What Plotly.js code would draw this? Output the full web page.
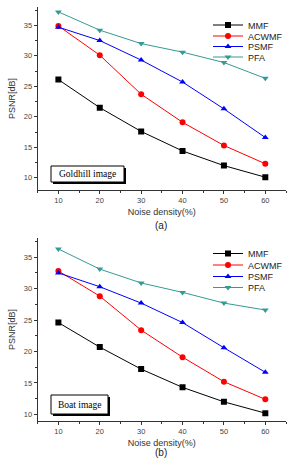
<!DOCTYPE html>
<html>
<head>
<meta charset="utf-8">
<script src="https://cdn.plot.ly/plotly-3.0.1.min.js"></script>
<style>
  html, body { margin: 0; padding: 0; background: #fff; }
  #chart { width: 289px; height: 458px; }
</style>
</head>
<body>
<div id="chart"></div>
<script>
// Noise densities (%) on the x axis
const noiseDensity = [10, 20, 30, 40, 50, 60];

// PSNR [dB] – Goldhill image
const goldMMF   = [26.1, 21.5, 17.6, 14.4, 12.0, 10.1];
const goldACWMF = [34.9, 30.1, 23.7, 19.1, 15.3, 12.3];
const goldPSMF  = [34.7, 32.5, 29.3, 25.7, 21.3, 16.6];
const goldPFA   = [37.2, 34.2, 32.0, 30.6, 28.9, 26.3];

// PSNR [dB] – Boat image
const boatMMF   = [24.6, 20.7, 17.2, 14.3, 12.0, 10.2];
const boatACWMF = [32.8, 28.8, 23.4, 19.1, 15.2, 12.4];
const boatPSMF  = [32.5, 30.3, 27.7, 24.6, 20.6, 16.7];
const boatPFA   = [36.3, 33.1, 30.9, 29.4, 27.7, 26.6];

const seriesNames = ['MMF', 'ACWMF', 'PSMF', 'PFA'];
const xTickVals = [10, 20, 30, 40, 50, 60];
const yTickVals = [10, 15, 20, 25, 30, 35];

const styles = [
  { color: '#000000', symbol: 'square' },
  { color: '#ff0000', symbol: 'circle' },
  { color: '#0000ff', symbol: 'triangle-up' },
  { color: '#339b95', symbol: 'triangle-down' }
];

// each series gets its own single-entry legend so the rows can sit tightly
function makeTraces(sets, xa, ya, legendOffset) {
  return sets.map((vals, i) => {
    const n = legendOffset + i + 1;
    return {
      type: 'scatter',
      mode: 'lines+markers',
      x: noiseDensity,
      y: vals,
      name: seriesNames[i],
      xaxis: xa,
      yaxis: ya,
      legend: n === 1 ? 'legend' : 'legend' + n,
      line: { color: styles[i].color, width: 1 },
      marker: { color: styles[i].color, symbol: styles[i].symbol, size: 6 }
    };
  });
}

const traces = [
  ...makeTraces([goldMMF, goldACWMF, goldPSMF, goldPFA], 'x', 'y', 0),
  ...makeTraces([boatMMF, boatACWMF, boatPSMF, boatPFA], 'x2', 'y2', 4)
];

const tickFont = { family: 'Liberation Sans, Arial, sans-serif', size: 7.5, color: '#444' };
const titleFont = { family: 'Liberation Sans, Arial, sans-serif', size: 9, color: '#333' };
const axisColor = '#333';

function xAxis(domain, anchor, titleText) {
  return {
    domain: domain, anchor: anchor, range: [5, 65],
    tickvals: xTickVals, ticks: 'outside', ticklen: 3, tickcolor: axisColor,
    minor: { dtick: 5, tick0: 5, ticks: 'outside', ticklen: 2, tickcolor: axisColor },
    showline: true, linecolor: axisColor, linewidth: 1,
    showgrid: false, zeroline: false, tickfont: tickFont,
    automargin: false,
    title: { text: titleText, font: titleFont, standoff: 4 }
  };
}
function yAxis(domain, anchor, range) {
  return {
    domain: domain, anchor: anchor, range: range,
    tickvals: yTickVals, ticks: 'outside', ticklen: 3, tickcolor: axisColor,
    minor: { dtick: 2.5, tick0: 0, ticks: 'outside', ticklen: 2, tickcolor: axisColor },
    showline: true, linecolor: axisColor, linewidth: 1,
    showgrid: false, zeroline: false, tickfont: tickFont,
    automargin: false,
    title: { text: 'PSNR[dB]', font: titleFont, standoff: 6 }
  };
}
// Mirror axes: inward ticks on the top and right edges of each frame
function topAxis(overlay, anchor) {
  return {
    overlaying: overlay, anchor: anchor, side: 'top', range: [5, 65],
    tickvals: xTickVals, ticks: 'inside', ticklen: 3, tickcolor: axisColor,
    minor: { dtick: 5, tick0: 5, ticks: 'inside', ticklen: 2, tickcolor: axisColor },
    showline: true, linecolor: axisColor, linewidth: 1,
    showticklabels: false, showgrid: false, zeroline: false
  };
}
function rightAxis(overlay, anchor, range) {
  return {
    overlaying: overlay, anchor: anchor, side: 'right', range: range,
    tickvals: yTickVals, ticks: 'inside', ticklen: 3, tickcolor: axisColor,
    minor: { dtick: 2.5, tick0: 0, ticks: 'inside', ticklen: 2, tickcolor: axisColor },
    showline: true, linecolor: axisColor, linewidth: 1,
    showticklabels: false, showgrid: false, zeroline: false
  };
}

const W = 289, H = 458;
const xDom = [37.7 / W, 286 / W];
const yDomTop = [1 - 190 / H, 1 - 7 / H];
const yDomBot = [1 - 420.7 / H, 1 - 238.3 / H];
const yRangeTop = [8, 38];
const yRangeBot = [9, 38];

// legend row centres (pixels from the top)
const legendRowsTop = [25, 36, 46.5, 57];
const legendRowsBot = [253.5, 265, 276.5, 287.5];
const legendLeft = 208;

const legendFont = { family: 'Liberation Sans, Arial, sans-serif', size: 9, color: '#222' };

const layout = {
  width: W, height: H,
  margin: { l: 0, r: 0, t: 0, b: 0 },
  paper_bgcolor: '#fff', plot_bgcolor: '#fff',
  showlegend: true,
  xaxis: xAxis(xDom, 'y', 'Noise density(%)'),
  yaxis: yAxis(yDomTop, 'x', yRangeTop),
  xaxis2: xAxis(xDom, 'y2', 'Noise density(%)'),
  yaxis2: yAxis(yDomBot, 'x2', yRangeBot),
  xaxis3: topAxis('x', 'y'),
  yaxis3: rightAxis('y', 'x', yRangeTop),
  xaxis4: topAxis('x2', 'y2'),
  yaxis4: rightAxis('y2', 'x2', yRangeBot),
  shapes: [
    // shadowed label boxes
    { type: 'rect', xref: 'paper', yref: 'paper', x0: 53 / W, x1: 126 / W, y0: 1 - 184 / H, y1: 1 - 168 / H, fillcolor: '#000', line: { width: 0 } },
    { type: 'rect', xref: 'paper', yref: 'paper', x0: 51 / W, x1: 124 / W, y0: 1 - 182 / H, y1: 1 - 166 / H, fillcolor: '#fff', line: { color: '#000', width: 1 } },
    { type: 'rect', xref: 'paper', yref: 'paper', x0: 53 / W, x1: 110 / W, y0: 1 - 416 / H, y1: 1 - 397 / H, fillcolor: '#000', line: { width: 0 } },
    { type: 'rect', xref: 'paper', yref: 'paper', x0: 51 / W, x1: 108 / W, y0: 1 - 414 / H, y1: 1 - 395 / H, fillcolor: '#fff', line: { color: '#000', width: 1 } }
  ],
  annotations: [
    { xref: 'paper', yref: 'paper', x: 87.5 / W, y: 1 - 174 / H, text: 'Goldhill image', showarrow: false, font: { family: 'Liberation Serif, Times New Roman, serif', size: 9.5, color: '#000' }, xanchor: 'center', yanchor: 'middle' },
    { xref: 'paper', yref: 'paper', x: 79.5 / W, y: 1 - 404.5 / H, text: 'Boat image', showarrow: false, font: { family: 'Liberation Serif, Times New Roman, serif', size: 9.5, color: '#000' }, xanchor: 'center', yanchor: 'middle' },
    { xref: 'paper', yref: 'paper', x: 161 / W, y: 1 - 226 / H, text: '(a)', showarrow: false, font: { family: 'Liberation Sans, Arial, sans-serif', size: 10, color: '#222' }, xanchor: 'center', yanchor: 'middle' },
    { xref: 'paper', yref: 'paper', x: 161 / W, y: 1 - 452.5 / H, text: '(b)', showarrow: false, font: { family: 'Liberation Sans, Arial, sans-serif', size: 10, color: '#222' }, xanchor: 'center', yanchor: 'middle' }
  ]
};

legendRowsTop.concat(legendRowsBot).forEach((cy, k) => {
  const key = k === 0 ? 'legend' : 'legend' + (k + 1);
  layout[key] = {
    x: legendLeft / W, y: 1 - cy / H, xanchor: 'left', yanchor: 'middle',
    bgcolor: 'rgba(0,0,0,0)', borderwidth: 0, font: legendFont,
    itemwidth: 30, tracegroupgap: 0
  };
});

Plotly.newPlot('chart', traces, layout, { staticPlot: true, displayModeBar: false });
</script>
</body>
</html>
